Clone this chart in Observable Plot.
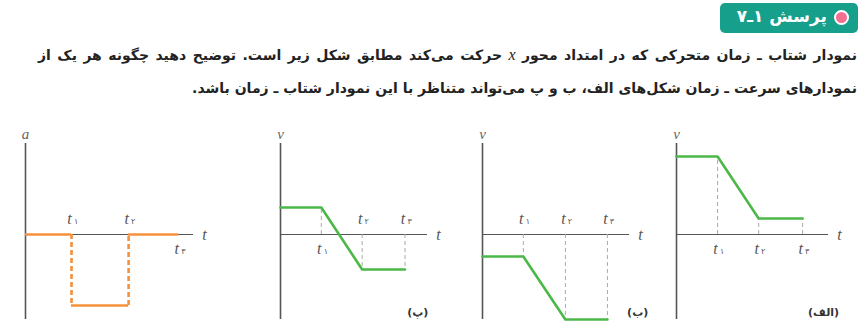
<!DOCTYPE html>
<html><head><meta charset="utf-8">
<script src="https://cdn.jsdelivr.net/npm/d3@7"></script>
<script src="https://cdn.jsdelivr.net/npm/@observablehq/plot@0.6"></script>
<style>
html,body{margin:0;padding:0;background:#fff;}
#page{position:relative;width:867px;height:328px;overflow:hidden;background:#fff;}
#badge{position:absolute;left:720px;top:3px;width:138px;height:30px;background:#16a08c;border-radius:5px;}
#badge .dot{position:absolute;right:9px;top:7px;width:15px;height:15px;border-radius:50%;background:#f26f92;border:2px solid #fff;box-sizing:border-box;}
#badge .txt{position:absolute;right:31px;top:3px;color:#fff;font:bold 17px "DejaVu Sans";direction:rtl;white-space:nowrap;}
.line{position:absolute;direction:rtl;font:bold 14px "DejaVu Sans";color:#222;white-space:nowrap;}
#l1{right:10px;top:46px;width:819px;text-align:justify;text-align-last:justify;}
#l2{right:10px;top:80px;text-align:right;}
.line i{font-family:"Liberation Serif";font-weight:normal;font-size:16px;}
svg.panel{position:absolute;}
</style>
</head><body><div id="page">
<div id="badge"><div class="dot"></div><div class="txt">پرسش ۱ـ۷</div></div>
<div class="line" id="l1">نمودار شتاب ـ زمان متحرکی که در امتداد محور <i>x</i> حرکت می‌کند مطابق شکل زیر است. توضیح دهید چگونه هر یک از</div>
<div class="line" id="l2">نمودارهای سرعت ـ زمان شکل‌های الف، ب و پ می‌تواند متناظر با این نمودار شتاب ـ زمان باشد.</div>
</div>
<script>
// ---- data ----
const yDomain = [-8.5, 9.1];
const subDigits = ["۱", "۲", "۳"];
// acceleration panel: times 0,t1,t2,t3 ; value on each interval
const accTimes = [0, 1, 2.24, 3.33];
const accValues = [0, -7.1, 0];
const accAxisEnd = 3.65;
const accTickSide = ["above", "above", "below"];
// velocity panels: times 0,t1,t2,t3 and velocity at those times
const velTimesP = [0, 1, 2, 3.05];
const velP = [2.7, 2.7, -3.5, -3.5];
const velTimesB = [0, 1, 2.03, 3.06];
const velB = [-2.2, -2.2, -8.5, -8.5];
const velTimesAlef = [0, 1, 2, 3.07];
const velAlef = [7.8, 7.8, 1.6, 1.6];
const panelNames = ["(پ)", "(ب)", "(الف)"];

const axisColor = "#555";
const orange = "#f7903a";
const green = "#4cb848";
const page = document.getElementById("page");

function axesMarks(end, yName) {
  return [
    Plot.ruleX([0], {y1: yDomain[0], y2: yDomain[1], stroke: axisColor, strokeWidth: 1.6}),
    Plot.ruleY([0], {x1: 0, x2: end, stroke: axisColor, strokeWidth: 1.2}),
    Plot.text([yName], {x: 0, y: yDomain[1], dy: -9, text: d => d, fontFamily: "Liberation Serif", fontStyle: "italic", fontSize: 15, fill: "#666"}),
    Plot.text(["t"], {x: end, y: 0, dx: 11, text: d => d, fontFamily: "Liberation Serif", fontStyle: "italic", fontSize: 16, fill: "#555"})
  ];
}
function tickText(times, sides) {
  const d = times.slice(1).map((t, i) => ({t, s: sides[i], lab: subDigits[i]}));
  const up = d.filter(r => r.s === "above"), dn = d.filter(r => r.s === "below");
  const m = [];
  for (const [arr, off] of [[up, -16], [dn, 14]]) {
    m.push(Plot.text(arr, {x: "t", y: 0, dx: -2, dy: off, text: () => "t", fontFamily: "Liberation Serif", fontStyle: "italic", fontSize: 16, fill: "#555"}));
    m.push(Plot.text(arr, {x: "t", y: 0, dx: 4.5, dy: off + 3, text: "lab", fontFamily: "DejaVu Sans", fontSize: 8, fill: "#555"}));
  }
  return m;
}
function panel(left, plotWidth, end, marks) {
  const svg = Plot.plot({
    width: 20 + plotWidth + 30, height: 215, marginLeft: 20, marginRight: 30, marginTop: 30, marginBottom: 9,
    x: {domain: [0, end], axis: null},
    y: {domain: yDomain, axis: null},
    style: {overflow: "visible", background: "transparent"},
    marks
  });
  svg.classList.add("panel");
  svg.style.left = left + "px";
  svg.style.top = "113px";
  page.appendChild(svg);
}

// acceleration panel
{
  const t = accTimes;
  const solid = accValues.map((v, i) => ({x1: t[i], x2: t[i + 1], y: v}));
  const jumps = [];
  for (let i = 1; i < accValues.length; i++) jumps.push({x: t[i], y1: accValues[i - 1], y2: accValues[i]});
  panel(5, 168, accAxisEnd, [
    ...axesMarks(accAxisEnd, "a"),
    Plot.ruleX(jumps, {x: "x", y1: "y1", y2: "y2", stroke: orange, strokeWidth: 2.6, strokeDasharray: "5,3"}),
    Plot.ruleY(solid, {x1: "x1", x2: "x2", y: "y", stroke: orange, strokeWidth: 2.6}),
    ...tickText(accTimes, accTickSide)
  ]);
}
function velPanel(left, plotWidth, end, times, vals, sides, name, nameX) {
  const pts = times.map((t, i) => ({t, v: vals[i]}));
  panel(left, plotWidth, end, [
    ...axesMarks(end, "v"),
    Plot.ruleX(pts.slice(1), {x: "t", y1: 0, y2: "v", stroke: "#aaa", strokeWidth: 1, strokeDasharray: "4,3"}),
    Plot.line(pts, {x: "t", y: "v", stroke: green, strokeWidth: 2.6}),
    ...tickText(times, sides),
    Plot.text([name], {x: nameX, y: -7.8, text: d => d, fontFamily: "DejaVu Sans", fontWeight: "bold", fontSize: 11, fill: "#333"})
  ]);
}
velPanel(260, 147, 3.6, velTimesP, velP, ["below", "above", "above"], panelNames[0], 3.36);
velPanel(462, 147, 3.6, velTimesB, velB, ["above", "above", "above"], panelNames[1], 3.8);
velPanel(656, 152, 3.7, velTimesAlef, velAlef, ["below", "below", "below"], panelNames[2], 3.58);
</script>
</body></html>
